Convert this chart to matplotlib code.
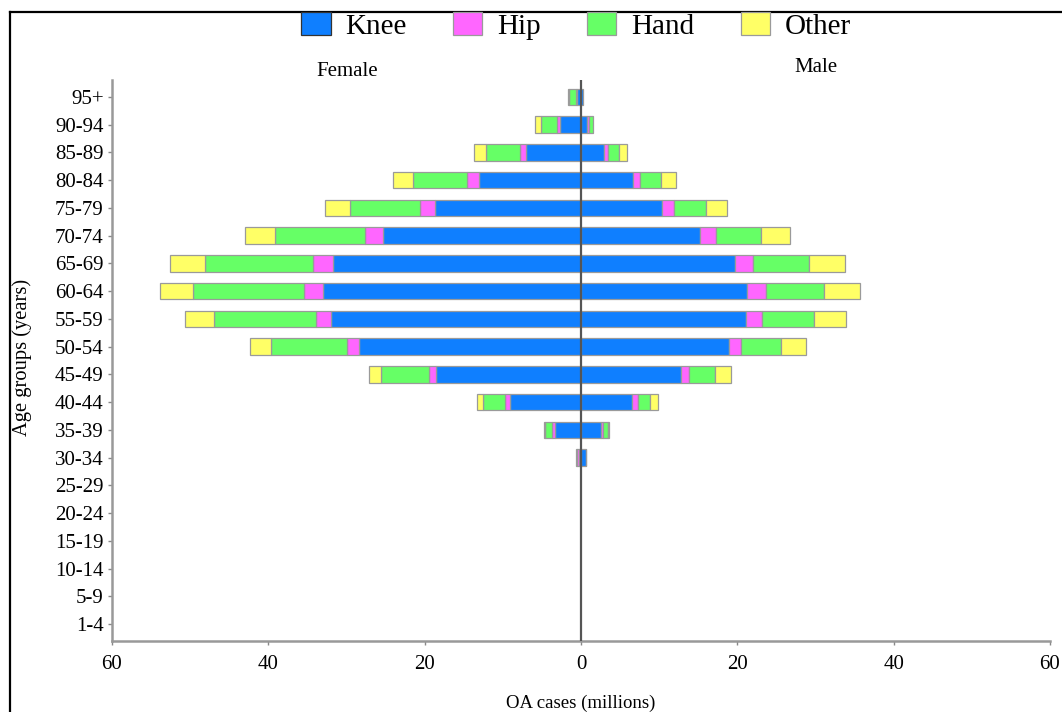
import numpy as np
import matplotlib
matplotlib.use("Agg")
import matplotlib.pyplot as plt
from matplotlib.lines import Line2D

plt.rcParams['font.family'] = ['Liberation Serif', 'DejaVu Serif']

# age groups, bottom to top
ages = ['1-4', '5-9', '10-14', '15-19', '20-24', '25-29', '30-34', '35-39', '40-44',
        '45-49', '50-54', '55-59', '60-64', '65-69', '70-74', '75-79', '80-84',
        '85-89', '90-94', '95+']

# OA cases (millions) by joint, female
female_knee = [0, 0, 0, 0, 0, 0, 0.25, 3.3, 9.1, 18.5, 28.4, 32.0, 33.0, 31.7, 25.3, 18.7, 13.1, 7.0, 2.7, 0.55]
female_hip = [0, 0, 0, 0, 0, 0, 0.3, 0.35, 0.65, 1.0, 1.5, 1.9, 2.4, 2.55, 2.35, 1.9, 1.5, 0.85, 0.35, 0.1]
female_hand = [0, 0, 0, 0, 0, 0, 0.05, 1.0, 2.85, 6.05, 9.8, 13.1, 14.3, 13.9, 11.5, 9.0, 6.9, 4.3, 2.1, 0.9]
female_other = [0, 0, 0, 0, 0, 0, 0, 0.1, 0.7, 1.6, 2.6, 3.6, 4.2, 4.4, 3.85, 3.1, 2.6, 1.5, 0.7, 0.05]

# male
male_knee = [0, 0, 0, 0, 0, 0, 0.6, 2.5, 6.55, 12.8, 18.9, 21.1, 21.3, 19.7, 15.2, 10.4, 6.6, 3.0, 0.8, 0.3]
male_hip = [0, 0, 0, 0, 0, 0, 0.05, 0.35, 0.7, 1.05, 1.55, 2.0, 2.35, 2.35, 2.05, 1.55, 0.95, 0.5, 0.25, 0]
male_hand = [0, 0, 0, 0, 0, 0, 0, 0.65, 1.6, 3.3, 5.1, 6.7, 7.4, 7.15, 5.75, 4.05, 2.7, 1.4, 0.5, 0]
male_other = [0, 0, 0, 0, 0, 0, 0, 0.1, 0.95, 2.0, 3.2, 4.1, 4.7, 4.6, 3.8, 2.7, 1.9, 0.95, 0, 0]

labels = ['Knee', 'Hip', 'Hand', 'Other']
colors = ['#0F7FFF', '#FF66FF', '#66FF66', '#FFFF66']

fig = plt.figure(figsize=(10.62, 7.12), dpi=100)
ax = fig.add_axes([112 / 1062, 1 - 641 / 712, (1050 - 112) / 1062, (641 - 80) / 712])

y = np.arange(len(ages))
h = 0.6

female = [female_knee, female_hip, female_hand, female_other]
male = [male_knee, male_hip, male_hand, male_other]

left_f = np.zeros(len(ages))
left_m = np.zeros(len(ages))
for i in range(4):
    fv = np.array(female[i])
    mv = np.array(male[i])
    kf = fv > 0  # skip empty segments so no stray edges are drawn
    km = mv > 0
    ax.barh(y[kf], -fv[kf], left=-left_f[kf], height=h, color=colors[i],
            edgecolor='#9a9a9a', linewidth=0.9, label=labels[i], zorder=2)
    ax.barh(y[km], mv[km], left=left_m[km], height=h, color=colors[i],
            edgecolor='#9a9a9a', linewidth=0.9, zorder=2)
    left_f += fv
    left_m += mv

ax.axvline(0, color='#555555', lw=1.6, zorder=3)

ax.set_xlim(-60, 60)
ax.set_ylim(-0.61, 19.61)
ax.set_yticks(y)
ax.set_yticklabels(ages, fontsize=15)
xt = [-60, -40, -20, 0, 20, 40, 60]
ax.set_xticks(xt)
ax.set_xticklabels([str(abs(v)) for v in xt], fontsize=15)
ax.tick_params(axis='both', length=3, width=1, color='#888888', pad=3)
ax.tick_params(axis='x', pad=7)

for s in ['top', 'right']:
    ax.spines[s].set_visible(False)
for s in ['left', 'bottom']:
    ax.spines[s].set_color('#999999')
    ax.spines[s].set_linewidth(1.8)

fig.text(22 / 1062, 1 - 357 / 712, 'Age groups (years)', rotation=90,
         ha='center', va='center', fontsize=14.8)
fig.text(581 / 1062, 1 - 703 / 712, 'OA cases (millions)', ha='center', va='center', fontsize=13.5)
fig.text(347 / 1062, 1 - 72 / 712, 'Female', ha='center', va='center', fontsize=15)
fig.text(816 / 1062, 1 - 68 / 712, 'Male', ha='center', va='center', fontsize=15)

leg = fig.legend(loc='center', bbox_to_anchor=(576 / 1062, 1 - 26 / 712), ncol=4,
                 frameon=False, fontsize=21, handlelength=1.0, handleheight=0.8,
                 handletextpad=0.5, columnspacing=1.6, borderaxespad=0)
leg.legend_handles[0].set_edgecolor('#333333')

# frame around the figure (right and bottom edges fall outside the image)
fig.add_artist(Line2D([10 / 1062, 10 / 1062], [0, 1 - 12 / 712], color='black', lw=1.6))
fig.add_artist(Line2D([10 / 1062, 1], [1 - 12 / 712, 1 - 12 / 712], color='black', lw=1.6))

fig.savefig('out.png', dpi=100)
